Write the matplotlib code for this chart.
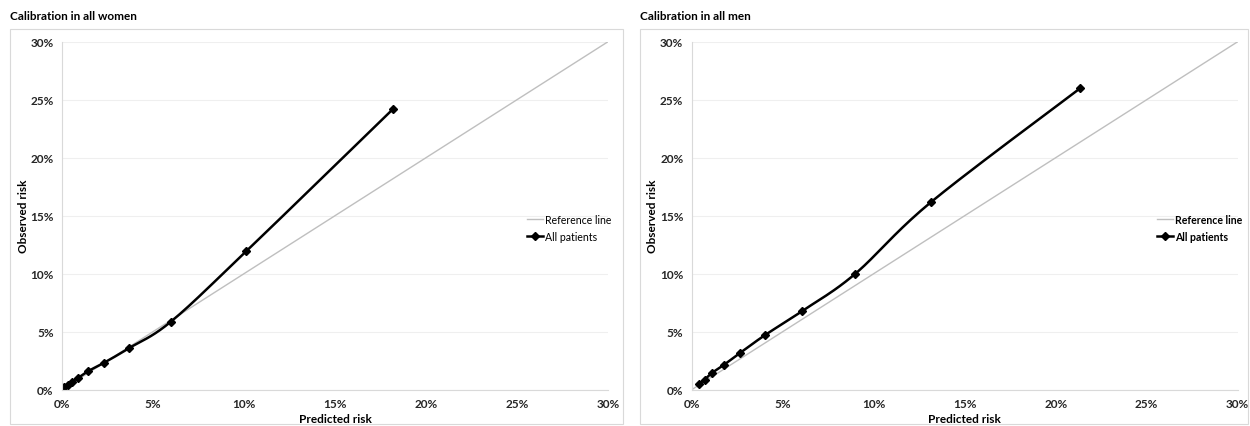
import numpy as np
import matplotlib
matplotlib.use("Agg")
from matplotlib import pyplot as plt
from matplotlib.patches import Rectangle
from matplotlib.ticker import FuncFormatter, MultipleLocator

plt.rcParams['font.family'] = ['Lato', 'DejaVu Sans']

# predicted vs observed risk (%) per risk group
women_pred = [0.13, 0.31, 0.53, 0.90, 1.45, 2.33, 3.68, 5.98, 10.12, 18.19]
women_obs = [0.21, 0.40, 0.69, 1.03, 1.61, 2.34, 3.58, 5.86, 11.93, 24.2]
men_pred = [0.40, 0.71, 1.11, 1.76, 2.65, 4.03, 6.07, 8.97, 13.17, 21.34]
men_obs = [0.49, 0.86, 1.44, 2.13, 3.16, 4.71, 6.78, 9.97, 16.2, 25.98]
ref_line = [0, 30]

titles = ['Calibration in all women', 'Calibration in all men']


def smooth(xs, ys, n=20):
    # Catmull-Rom curve through the points, like a spreadsheet "smoothed line"
    p = np.column_stack([xs, ys]).astype(float)
    p = np.vstack([p[0], p, p[-1]])
    out = []
    for i in range(1, len(p) - 2):
        p0, p1, p2, p3 = p[i - 1], p[i], p[i + 1], p[i + 2]
        t = np.linspace(0, 1, n, endpoint=False)[:, None]
        seg = 0.5 * ((2 * p1) + (-p0 + p2) * t + (2 * p0 - 5 * p1 + 4 * p2 - p3) * t ** 2
                     + (-p0 + 3 * p1 - 3 * p2 + p3) * t ** 3)
        out.append(seg)
    out.append(p[-2][None, :])
    out = np.vstack(out)
    return out[:, 0], out[:, 1]


fig = plt.figure(figsize=(12.5, 4.27), dpi=100)

# chart frames
for x0, w in [(10, 613), (640, 608)]:
    fig.add_artist(Rectangle((x0 / 1250, 2 / 427), w / 1250, (427 - 30 - 2) / 427,
                             transform=fig.transFigure, fill=False,
                             edgecolor='#d9d9d9', linewidth=0.8))

panels = [(62 / 1250, women_pred, women_obs, 10, 'normal'),
          (691.7 / 1250, men_pred, men_obs, 640, 'bold')]

for k, (left, xp, yo, tx, legw) in enumerate(panels):
    ax = fig.add_axes([left, 1 - 390.7 / 427, 546 / 1250, 348 / 427])
    ax.plot(ref_line, ref_line, color='#bfbfbf', lw=1.0, label='Reference line')
    sx, sy = smooth(xp, yo)
    ax.plot(sx, sy, color='black', lw=1.8, label='_nolegend_')
    ax.plot(xp, yo, 'D', color='black', ms=4, label='_nolegend_')
    ax.plot([], [], color='black', lw=1.8, marker='D', ms=4, label='All patients')

    ax.set_xlim(0, 30)
    ax.set_ylim(0, 30)
    ax.xaxis.set_major_locator(MultipleLocator(5))
    ax.yaxis.set_major_locator(MultipleLocator(5))
    pct = FuncFormatter(lambda v, _: f'{v:.0f}%')
    ax.xaxis.set_major_formatter(pct)
    ax.yaxis.set_major_formatter(pct)
    ax.tick_params(length=0, labelsize=8.5, colors='#262626', pad=6)
    for lab in ax.get_xticklabels() + ax.get_yticklabels():
        lab.set_fontweight('bold')
    ax.grid(axis='y', color='#efefef', lw=0.8)
    ax.set_axisbelow(True)
    for s in ['top', 'right']:
        ax.spines[s].set_visible(False)
    for s in ['left', 'bottom']:
        ax.spines[s].set_color('#d9d9d9')
        ax.spines[s].set_linewidth(0.8)

    ax.set_xlabel('Predicted risk', fontsize=8.5, fontweight='bold', labelpad=3)
    ax.set_ylabel('Observed risk', fontsize=8.5, fontweight='bold', labelpad=1)

    ax.legend(loc='center left', bbox_to_anchor=(0.852, 0.465), frameon=False,
              borderpad=0, borderaxespad=0,
              handlelength=1.5, handletextpad=0.2, labelspacing=0.6,
              prop={'size': 7.6, 'weight': legw})

    fig.text(tx / 1250, 1 - 16 / 427, titles[k], fontsize=8.5, fontweight='bold',
             va='center', ha='left')

fig.savefig('out.png', dpi=100)
